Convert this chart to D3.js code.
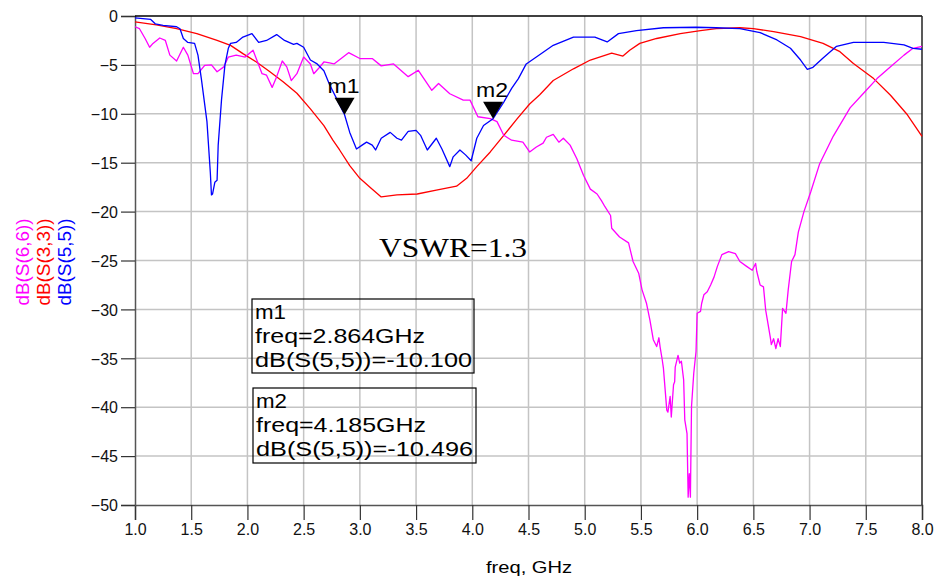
<!DOCTYPE html>
<html>
<head>
<meta charset="utf-8">
<script src="https://cdn.jsdelivr.net/npm/d3@7"></script>
<style>
  body { margin: 0; background: #fff; }
  text { font-family: Arial, "Liberation Sans", sans-serif; }
  text.serif { font-family: "Liberation Serif", "Times New Roman", serif; }
</style>
</head>
<body>
<div id="chart"></div>
<script>
// S-parameter traces: [freq GHz, dB]
const s66 = [
  [1.00, -1.1], [1.04, -1.3], [1.09, -2.3], [1.13, -3.2], [1.16, -2.8], [1.22, -2.25], [1.27, -2.5],
  [1.31, -4.0], [1.37, -4.6], [1.43, -3.2], [1.47, -4.0], [1.52, -5.9], [1.56, -5.9], [1.62, -5.05],
  [1.68, -5.0], [1.73, -5.7], [1.79, -5.2], [1.83, -4.2], [1.90, -4.0], [1.98, -4.2], [2.05, -3.5],
  [2.08, -4.4], [2.13, -5.9], [2.17, -6.05], [2.22, -7.3], [2.26, -6.2], [2.31, -4.6], [2.35, -5.2],
  [2.39, -6.6], [2.44, -5.9], [2.50, -4.2], [2.56, -4.9], [2.59, -5.9], [2.63, -5.4], [2.68, -4.7],
  [2.73, -4.8], [2.77, -4.9], [2.90, -3.75], [3.00, -4.35], [3.11, -4.35], [3.19, -5.1], [3.30, -4.9],
  [3.43, -6.2], [3.52, -5.55], [3.64, -7.6], [3.70, -6.9], [3.80, -7.95], [3.92, -8.6], [3.98, -8.6],
  [4.05, -10.3], [4.16, -10.5], [4.22, -10.8], [4.28, -12.2], [4.35, -12.7], [4.45, -12.9], [4.51, -13.9],
  [4.57, -13.4], [4.63, -13.0], [4.66, -12.4], [4.72, -12.1], [4.77, -12.9], [4.81, -12.5], [4.87, -13.2],
  [4.93, -14.6], [4.99, -16.3], [5.05, -17.7], [5.11, -18.2], [5.15, -18.9], [5.18, -19.5], [5.23, -20.4],
  [5.24, -21.7], [5.31, -22.6], [5.39, -23.2], [5.43, -25.1], [5.48, -26.3], [5.51, -28.0], [5.55, -29.4],
  [5.58, -31.1], [5.61, -33.1], [5.64, -33.8], [5.66, -32.9], [5.67, -33.8], [5.69, -35.2], [5.70, -36.0],
  [5.73, -40.3], [5.74, -40.5], [5.76, -38.9], [5.77, -41.0], [5.79, -37.7], [5.80, -37.4], [5.805, -35.9],
  [5.83, -34.7], [5.845, -35.5], [5.86, -35.3], [5.88, -37.2], [5.89, -41.3], [5.91, -42.7], [5.92, -49.2],
  [5.93, -46.8], [5.94, -49.2], [5.95, -39.9], [5.97, -36.5], [5.99, -34.3], [6.00, -30.4], [6.03, -30.2],
  [6.04, -29.4], [6.06, -28.5], [6.09, -28.2], [6.12, -27.5], [6.15, -26.7], [6.18, -25.6], [6.22, -24.4],
  [6.28, -24.1], [6.34, -24.3], [6.38, -25.1], [6.44, -25.6], [6.49, -26.0], [6.52, -25.3], [6.53, -26.1],
  [6.56, -27.5], [6.59, -27.7], [6.61, -30.1], [6.65, -32.8], [6.66, -33.6], [6.68, -33.0], [6.70, -34.0],
  [6.72, -33.0], [6.74, -33.8], [6.745, -32.8], [6.76, -29.9], [6.79, -30.4], [6.81, -28.0], [6.84, -25.1],
  [6.87, -24.4], [6.90, -22.1], [6.95, -20.0], [7.01, -18.0], [7.09, -15.1], [7.21, -12.3], [7.36, -9.4],
  [7.48, -7.9], [7.60, -6.4], [7.72, -5.2], [7.84, -4.0], [7.92, -3.3], [8.00, -3.1]
];

const s33 = [
  [1.00, -0.6], [1.19, -0.9], [1.37, -1.3], [1.55, -1.8], [1.73, -2.5], [1.85, -3.0], [1.96, -3.85],
  [2.08, -4.7], [2.20, -5.7], [2.32, -6.75], [2.44, -7.9], [2.56, -9.5], [2.68, -11.2], [2.76, -12.7],
  [2.82, -13.7], [2.91, -15.3], [3.00, -16.6], [3.09, -17.5], [3.19, -18.5], [3.33, -18.3], [3.51, -18.2],
  [3.68, -17.8], [3.86, -17.4], [3.95, -16.6], [4.04, -15.4], [4.16, -13.9], [4.28, -12.2], [4.40, -10.5],
  [4.51, -9.0], [4.60, -8.05], [4.72, -6.6], [4.90, -5.4], [5.05, -4.5], [5.24, -3.8], [5.34, -4.1],
  [5.40, -3.5], [5.49, -2.8], [5.64, -2.3], [5.85, -1.8], [6.03, -1.5], [6.17, -1.3], [6.38, -1.2],
  [6.50, -1.3], [6.68, -1.6], [6.92, -2.1], [7.12, -2.8], [7.27, -3.65], [7.39, -4.85], [7.57, -6.4],
  [7.72, -8.1], [7.87, -10.1], [8.00, -12.3]
];

const s55 = [
  [1.00, -0.2], [1.07, -0.27], [1.14, -0.35], [1.18, -0.8], [1.25, -0.95], [1.37, -1.1], [1.40, -1.3],
  [1.43, -2.3], [1.47, -2.7], [1.53, -2.8], [1.56, -4.0], [1.59, -6.4], [1.64, -10.8], [1.67, -16.0],
  [1.68, -18.3], [1.69, -18.2], [1.71, -17.0], [1.73, -16.8], [1.74, -13.2], [1.77, -8.5], [1.80, -5.0],
  [1.83, -3.3], [1.85, -2.8], [1.90, -2.7], [1.96, -2.15], [2.04, -1.8], [2.10, -2.7], [2.17, -2.5],
  [2.26, -1.9], [2.33, -2.5], [2.41, -2.9], [2.44, -2.8], [2.50, -3.2], [2.56, -4.5], [2.62, -4.9],
  [2.68, -5.6], [2.73, -7.0], [2.80, -8.6], [2.864, -10.1], [2.91, -11.9], [2.97, -13.6], [3.02, -13.2],
  [3.06, -12.9], [3.11, -13.2], [3.14, -13.7], [3.19, -12.5], [3.27, -11.9], [3.33, -12.5], [3.37, -12.7],
  [3.43, -11.8], [3.50, -11.7], [3.54, -12.2], [3.60, -13.7], [3.68, -12.5], [3.73, -13.6], [3.80, -15.4],
  [3.83, -14.4], [3.89, -13.7], [3.94, -14.2], [3.99, -14.8], [4.04, -12.5], [4.10, -11.2], [4.185, -10.5],
  [4.28, -8.8], [4.35, -7.4], [4.41, -6.4], [4.48, -4.9], [4.57, -4.2], [4.72, -3.0], [4.90, -2.15],
  [5.09, -2.15], [5.20, -2.65], [5.30, -1.8], [5.46, -1.5], [5.70, -1.2], [5.99, -1.15], [6.17, -1.2],
  [6.38, -1.3], [6.56, -1.7], [6.71, -2.45], [6.83, -3.3], [6.92, -4.5], [6.98, -5.45], [7.03, -5.25],
  [7.12, -4.3], [7.24, -3.1], [7.39, -2.7], [7.66, -2.7], [7.84, -2.95], [7.92, -3.3], [8.00, -3.4]
];

const xTicks = [1.0, 1.5, 2.0, 2.5, 3.0, 3.5, 4.0, 4.5, 5.0, 5.5, 6.0, 6.5, 7.0, 7.5, 8.0];
const yTicks = [0, -5, -10, -15, -20, -25, -30, -35, -40, -45, -50];

const markers = [
  { name: 'm1', freq: 2.864, db: -10.100 },
  { name: 'm2', freq: 4.185, db: -10.496 }
];

const W = 939, H = 582;
const margin = { left: 135, top: 16, right: 17, bottom: 77 };
const iw = W - margin.left - margin.right;
const ih = H - margin.top - margin.bottom;

const svg = d3.select('#chart').append('svg')
  .attr('width', W)
  .attr('height', H);

const g = svg.append('g').attr('transform', `translate(${margin.left},${margin.top})`);

const x = d3.scaleLinear().domain([1, 8]).range([0, iw]);
const y = d3.scaleLinear().domain([-50, 0]).range([ih, 0]);

// grid
g.selectAll('.vgrid').data(xTicks.slice(1, -1)).enter().append('line')
  .attr('x1', d => x(d)).attr('x2', d => x(d))
  .attr('y1', 0).attr('y2', ih)
  .attr('stroke', '#c4c4c4').attr('stroke-width', 1.5);
g.selectAll('.hgrid').data(yTicks.slice(1, -1)).enter().append('line')
  .attr('x1', 0).attr('x2', iw)
  .attr('y1', d => y(d)).attr('y2', d => y(d))
  .attr('stroke', '#c4c4c4').attr('stroke-width', 1.5);

// axes
const xAxis = g.append('g').attr('transform', `translate(0,${ih})`)
  .call(d3.axisBottom(x).tickValues(xTicks).tickFormat(d3.format('.1f')).tickSize(15).tickPadding(4));
const yAxis = g.append('g')
  .call(d3.axisLeft(y).tickValues(yTicks).tickFormat(d => d === 0 ? '0' : d3.format('d')(d)).tickSize(14).tickPadding(3));

[xAxis, yAxis].forEach(a => {
  a.select('.domain').attr('stroke', '#555').attr('stroke-width', 1.5);
  a.selectAll('.tick line').attr('stroke', '#333').attr('stroke-width', 1.2);
  a.selectAll('.tick text').attr('font-size', 16).attr('fill', '#111')
    .attr('font-family', 'Arial, "Liberation Sans", sans-serif');
});
yAxis.selectAll('.tick text').attr('dy', '0.36em');

// frame top and right
g.append('line').attr('x1', 0).attr('x2', iw).attr('y1', 0).attr('y2', 0)
  .attr('stroke', '#000').attr('stroke-width', 1.5);
g.append('line').attr('x1', iw).attr('x2', iw).attr('y1', 0).attr('y2', ih)
  .attr('stroke', '#222').attr('stroke-width', 1.5);

// traces
const line = d3.line().x(d => x(d[0])).y(d => y(d[1]));
const traces = [
  { data: s33, color: '#ff0000' },
  { data: s66, color: '#ff00ff' },
  { data: s55, color: '#0000ff' }
];
traces.forEach(t => {
  g.append('path').datum(t.data)
    .attr('d', line)
    .attr('fill', 'none')
    .attr('stroke', t.color)
    .attr('stroke-width', 1.3)
    .attr('stroke-linejoin', 'round');
});

// marker triangles
markers.forEach(m => {
  const mx = x(m.freq), my = y(m.db);
  g.append('path')
    .attr('d', `M${mx},${my} L${mx - 10},${my - 17} L${mx + 10},${my - 17} Z`)
    .attr('fill', '#000');
  g.append('text')
    .attr('x', mx - 1).attr('y', my - 22)
    .attr('text-anchor', 'middle')
    .attr('font-size', 20)
    .attr('textLength', 32).attr('lengthAdjust', 'spacingAndGlyphs')
    .text(m.name);
});

// marker readout boxes
const boxes = [
  { m: markers[0], x: 252, y: 299, w: 222, h: 74 },
  { m: markers[1], x: 253, y: 388, w: 223, h: 75 }
];
boxes.forEach(b => {
  svg.append('rect')
    .attr('x', b.x).attr('y', b.y).attr('width', b.w).attr('height', b.h)
    .attr('fill', 'none').attr('stroke', '#000').attr('stroke-width', 1.2);
  const lines = [
    { t: b.m.name, len: 31 },
    { t: `freq=${b.m.freq.toFixed(3)}GHz`, len: 170 },
    { t: `dB(S(5,5))=${b.m.db.toFixed(3)}`, len: 217 }
  ];
  lines.forEach((l, i) => {
    svg.append('text')
      .attr('x', b.x + 3).attr('y', b.y + 20 + i * 24)
      .attr('font-size', 21)
      .attr('textLength', l.len).attr('lengthAdjust', 'spacingAndGlyphs')
      .text(l.t);
  });
});

// annotation
svg.append('text')
  .attr('class', 'serif')
  .attr('x', 379).attr('y', 257)
  .attr('font-size', 28)
  .attr('textLength', 148).attr('lengthAdjust', 'spacingAndGlyphs')
  .text('VSWR=1.3');

// x label
svg.append('text')
  .attr('x', 529).attr('y', 573)
  .attr('text-anchor', 'middle')
  .attr('font-size', 17)
  .attr('textLength', 86).attr('lengthAdjust', 'spacingAndGlyphs')
  .text('freq, GHz');

// y labels (stacked, rotated)
const yLabels = [
  { t: 'dB(S(6,6))', color: '#ff00ff', bx: 29 },
  { t: 'dB(S(3,3))', color: '#ff0000', bx: 50 },
  { t: 'dB(S(5,5))', color: '#0000ff', bx: 71 }
];
yLabels.forEach(l => {
  svg.append('text')
    .attr('transform', `translate(${l.bx},262) rotate(-90)`)
    .attr('text-anchor', 'middle')
    .attr('font-size', 18)
    .attr('fill', l.color)
    .attr('textLength', 87).attr('lengthAdjust', 'spacingAndGlyphs')
    .text(l.t);
});
</script>
</body>
</html>
